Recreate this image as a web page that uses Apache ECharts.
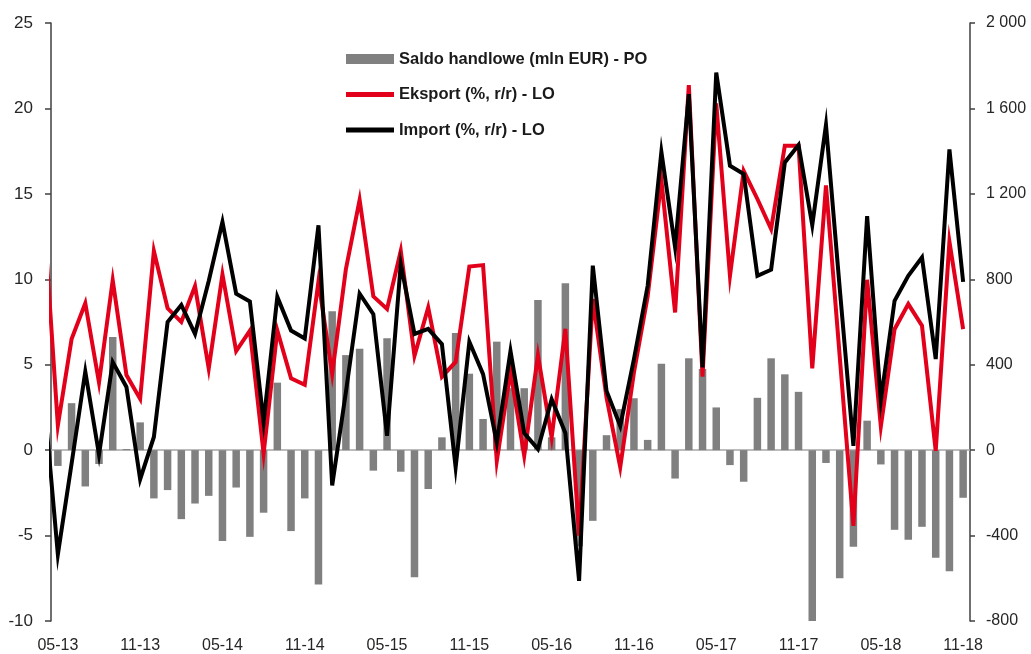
<!DOCTYPE html>
<html>
<head>
<meta charset="utf-8">
<title>Saldo handlowe, eksport, import</title>
<script src="https://cdn.jsdelivr.net/npm/echarts@6.0.0/dist/echarts.min.js"></script>
<style>
	html, body { margin: 0; padding: 0; background: #fff; }
	#main { width: 1031px; height: 654px; }
</style>
</head>
<body>
<div id="main"></div>
<script>
// miesiace od 04-13 (pierwszy tylko po to, zeby linia wchodzila z lewej krawedzi)
var months = [
	'04-13','05-13','06-13','07-13','08-13','09-13','10-13','11-13','12-13',
	'01-14','02-14','03-14','04-14','05-14','06-14','07-14','08-14','09-14','10-14','11-14','12-14',
	'01-15','02-15','03-15','04-15','05-15','06-15','07-15','08-15','09-15','10-15','11-15','12-15',
	'01-16','02-16','03-16','04-16','05-16','06-16','07-16','08-16','09-16','10-16','11-16','12-16',
	'01-17','02-17','03-17','04-17','05-17','06-17','07-17','08-17','09-17','10-17','11-17','12-17',
	'01-18','02-18','03-18','04-18','05-18','06-18','07-18','08-18','09-18','10-18','11-18'
];

// saldo handlowe, mln EUR (prawa os)
var saldo = [
	null,
	-74, 220, -170, -65, 530, 5, 130, -226,
	-187, -323, -250, -214, -426, -175, -406, -293, 316, -379, -226, -629,
	650, 445, 475, -96, 524, -101, -595, -182, 60, 548, 358, 146,
	508, 290, 290, 703, 60, 782, -450, -331, 70, 192, 243, 48,
	405, -133, 430, 380, 200, -70, -148, 245, 430, 355, 273, -800,
	-60, -600, -452, 138, -67, -373, -420, -359, -504, -567, -223
];

// eksport, % r/r (lewa os)
var eksport = [
	13.5,
	1.45, 6.5, 8.6, 3.95, 9.95, 4.4, 3.0, 11.65,
	8.3, 7.5, 9.6, 4.77, 10.28, 5.8, 7.0, -0.2, 7.0, 4.2, 3.83, 9.88,
	4.47, 10.6, 14.65, 9.0, 8.26, 11.67, 5.52, 8.35, 4.3, 5.16, 10.75, 10.83,
	-0.63, 4.6, -0.33, 5.56, 0.74, 7.1, -5.0, 8.84, 3.08, -1.0, 4.55, 9.0,
	15.8, 8.06, 21.37, 4.3, 20.3, 10.2, 16.35, 14.7, 12.94, 17.82, 17.82, 4.78,
	15.5, 5.5, -4.43, 9.97, 1.39, 7.08, 8.55, 7.28, -0.04, 12.2, 7.08
];

// import, % r/r (lewa os)
var importRr = [
	3.0,
	-6.1, -0.8, 4.6, -0.26, 5.15, 3.7, -1.7, 0.77,
	7.5, 8.5, 6.8, 9.9, 13.36, 9.16, 8.7, 1.65, 8.97, 7.0, 6.53, 13.16,
	-2.06, 3.4, 9.16, 7.96, 0.84, 10.9, 6.8, 7.1, 6.2, -1.0, 6.34, 4.45,
	0.45, 5.8, 1.0, 0.06, 2.98, 1.0, -7.65, 10.8, 3.47, 1.42, 5.33, 9.62,
	17.46, 11.87, 20.84, 4.84, 22.1, 16.65, 16.16, 10.2, 10.56, 16.84, 17.86, 13.17,
	19.03, 9.5, 0.25, 13.7, 2.9, 8.74, 10.2, 11.28, 5.33, 17.6, 9.85
];

var names = ['Saldo handlowe (mln EUR) - PO', 'Eksport (%, r/r) - LO', 'Import (%, r/r) - LO'];

// ikona linii w legendzie: pasek 48x5 wysrodkowany w polu 48x10
var lineIcon = 'path://M0,0 M48,10 M0,2.5 L48,2.5 L48,7.5 L0,7.5 Z';

function spaceThousands(v){
	return String(v).replace(/\B(?=(\d{3})+(?!\d))/g, ' ');
}

// co szosty miesiac, zaczynajac od 05-13
function everySixth(index){
	return index % 6 === 1;
}

function createOption(){
	var axisFont = { fontFamily: 'Liberation Sans, Arial, sans-serif', fontSize: 16, color: '#262626' };
	option = {
		animation: false,
		backgroundColor: '#fff',
		grid: { left: 51, right: 61, top: 23, bottom: 33, outerBoundsMode: 'none' },
		legend: {
			orient: 'vertical',
			left: 341,
			top: 45,
			itemWidth: 48,
			itemHeight: 10,
			itemGap: 17.5,
			textStyle: { fontFamily: 'Liberation Sans, Arial, sans-serif', fontSize: 16.5, fontWeight: 'bold', color: '#1a1a1a', lineHeight: 18 },
			data: [
				{ name: names[0], icon: 'rect' },
				{ name: names[1], icon: lineIcon },
				{ name: names[2], icon: lineIcon }
			]
		},
		xAxis: [
			{
				// linia zera z kreskami
				type: 'category',
				data: months,
				min: 1,
				axisLine: { onZero: true, lineStyle: { color: '#a6a6a6', width: 1.5 } },
				axisTick: { interval: everySixth, length: 3, lineStyle: { color: '#a6a6a6' } },
				axisLabel: { show: false },
				splitLine: { show: false }
			},
			{
				// podpisy na dole
				type: 'category',
				data: months,
				min: 1,
				position: 'bottom',
				axisLine: { show: false, onZero: false },
				axisTick: { show: false },
				axisLabel: Object.assign({ interval: everySixth, margin: 17 }, axisFont),
				splitLine: { show: false }
			}
		],
		yAxis: [
			{
				type: 'value',
				min: -10,
				max: 25,
				interval: 5,
				axisLine: { show: true, lineStyle: { color: '#404040', width: 1.5 } },
				axisTick: { show: true, length: 6, lineStyle: { color: '#404040', width: 1.5 } },
				axisLabel: Object.assign({ margin: 18 }, axisFont, { fontSize: 17 }),
				splitLine: { show: false }
			},
			{
				type: 'value',
				min: -800,
				max: 2000,
				interval: 400,
				position: 'right',
				axisLine: { show: true, lineStyle: { color: '#404040', width: 1.5 } },
				axisTick: { show: true, length: 5, lineStyle: { color: '#404040', width: 1.5 } },
				axisLabel: Object.assign({ margin: 16, formatter: spaceThousands }, axisFont),
				splitLine: { show: false }
			}
		],
		series: [
			{
				name: names[0],
				type: 'bar',
				yAxisIndex: 1,
				barWidth: 7.5,
				itemStyle: { color: '#808080' },
				data: saldo
			},
			{
				name: names[1],
				type: 'line',
				symbol: 'none',
				clip: true,
				lineStyle: { color: '#e2001a', width: 4, join: 'miter' },
				itemStyle: { color: '#e2001a' },
				data: eksport
			},
			{
				name: names[2],
				type: 'line',
				symbol: 'none',
				clip: true,
				lineStyle: { color: '#000', width: 4, join: 'miter' },
				itemStyle: { color: '#000' },
				data: importRr
			}
		]
	};
	return option;
}

var myChart = echarts.init(document.getElementById('main'));
myChart.setOption(createOption());
</script>
</body>
</html>
